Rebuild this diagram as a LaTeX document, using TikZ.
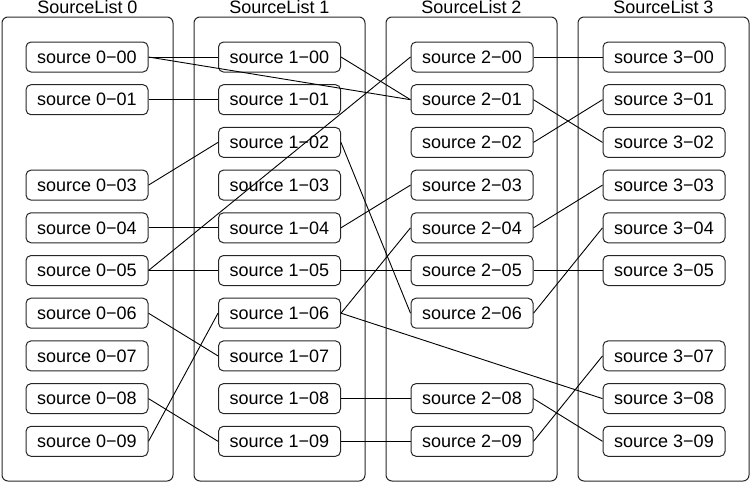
\documentclass[tikz,border=0pt]{standalone}
\usepackage{fontspec}
\setmainfont{Liberation Sans}
\begin{document}
\begin{tikzpicture}[x=1pt,y=-1pt,
  src/.style={draw=black!85,line width=1pt,rounded corners=5pt,minimum width=122pt,minimum height=30pt,inner sep=0pt,font=\fontsize{18}{20}\selectfont},
  grp/.style={draw=black!85,line width=1pt,rounded corners=6pt},
  ttl/.style={inner sep=0pt,font=\fontsize{18}{20}\selectfont},
  link/.style={draw=black,line width=0.9pt}]
\useasboundingbox (0,0) rectangle (752,483);
% containers
\foreach \c/\x in {0/2,1/194,2/386,3/578}{
  \draw[grp] (\x,17) rectangle ++(171,464);
  \node[ttl,anchor=base] (t\c) at (\x+85.5,13.5) {SourceList \c};
}
% nodes
\foreach \c/\cx/\rows in {0/87/{0,1,3,4,5,6,7,8,9},1/279.5/{0,1,2,3,4,5,6,7,8,9},2/472/{0,1,2,3,4,5,6,8,9},3/664/{0,1,2,3,4,5,7,8,9}}{
  \foreach \r in \rows {
    \node[src] (n\c-\r) at (\cx,57+42.7*\r) {source \c−0\r};
  }
}
% links
\foreach \a/\b in {0-0/1-0,0-0/2-1,0-1/1-1,0-3/1-2,0-4/1-4,0-5/2-0,0-5/1-5,0-6/1-7,0-8/1-9,0-9/1-6,
  1-0/2-1,1-2/2-6,1-4/2-3,1-5/2-5,1-6/2-4,1-6/3-8,1-8/2-8,1-9/2-9,
  2-0/3-0,2-1/3-2,2-2/3-1,2-4/3-3,2-5/3-5,2-6/3-4,2-8/3-9,2-9/3-7}{
  \draw[link] (n\a.east) -- (n\b.west);
}
\end{tikzpicture}
\end{document}
